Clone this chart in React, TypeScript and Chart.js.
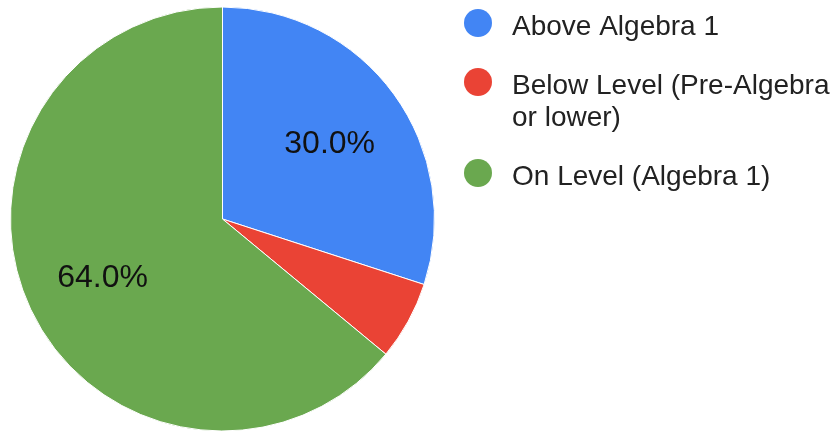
import React, { useEffect, useRef } from "react";
import { Chart, registerables } from "chart.js";

Chart.register(...registerables);

const categories: string[] = [
  "Above Algebra 1",
  "Below Level (Pre-Algebra or lower)",
  "On Level (Algebra 1)",
];
const shares: number[] = [30.0, 6.0, 64.0];
const sliceColors: string[] = ["#4285f4", "#ea4335", "#6aa84f"];

const FONT = '"Liberation Sans", Arial, sans-serif';

// Percentage labels inside the larger slices
const sliceLabels = {
  id: "sliceLabels",
  afterDatasetsDraw(chart: Chart) {
    const { ctx } = chart;
    const meta = chart.getDatasetMeta(0);
    const values = chart.data.datasets[0].data as number[];
    const total = values.reduce((a, b) => a + b, 0);
    ctx.save();
    ctx.font = `32px ${FONT}`;
    ctx.fillStyle = "#111111";
    ctx.textAlign = "center";
    ctx.textBaseline = "alphabetic";
    meta.data.forEach((el: any, i: number) => {
      const pct = (values[i] / total) * 100;
      if (pct < 10) return;
      const { x, y, startAngle, endAngle, outerRadius } = el.getProps(
        ["x", "y", "startAngle", "endAngle", "outerRadius"],
        true
      );
      const mid = (startAngle + endAngle) / 2;
      const r = outerRadius * 0.625;
      const cx = x + Math.cos(mid) * r;
      const cy = y + Math.sin(mid) * r;
      ctx.fillText(`${pct.toFixed(1)}%`, cx, cy + 11.5);
    });
    ctx.restore();
  },
};

// Legend on the right with round markers and word-wrapped labels
const sideLegend = {
  id: "sideLegend",
  afterDraw(chart: Chart) {
    const { ctx, width } = chart;
    const labels = chart.data.labels as string[];
    const colors = chart.data.datasets[0].backgroundColor as string[];
    const markerX = 478;
    const textX = 512;
    const lineHeight = 32;
    const itemGap = 59;
    const maxW = width - textX - 2;
    ctx.save();
    ctx.font = `28px ${FONT}`;
    ctx.textAlign = "left";
    ctx.textBaseline = "alphabetic";
    let baseline = 35;
    labels.forEach((label, i) => {
      const words = label.split(" ");
      const lines: string[] = [];
      let cur = "";
      words.forEach((w) => {
        const test = cur ? `${cur} ${w}` : w;
        if (cur && ctx.measureText(test).width > maxW) {
          lines.push(cur);
          cur = w;
        } else {
          cur = test;
        }
      });
      if (cur) lines.push(cur);

      ctx.fillStyle = colors[i];
      ctx.beginPath();
      ctx.arc(markerX, baseline - 12, 14, 0, Math.PI * 2);
      ctx.fill();

      ctx.fillStyle = "#222222";
      lines.forEach((ln, j) => {
        ctx.fillText(ln, textX, baseline + j * lineHeight);
      });
      baseline += (lines.length - 1) * lineHeight + itemGap;
    });
    ctx.restore();
  },
};

export default function App() {
  const canvasRef = useRef<HTMLCanvasElement | null>(null);

  useEffect(() => {
    if (!canvasRef.current) return;
    const chart = new Chart(canvasRef.current, {
      type: "pie",
      data: {
        labels: categories,
        datasets: [
          {
            data: shares,
            backgroundColor: sliceColors,
            borderColor: "#ffffff",
            borderWidth: 1,
            radius: 212,
          } as any,
        ],
      },
      options: {
        responsive: false,
        animation: false,
        devicePixelRatio: 1,
        layout: { padding: { left: 10, top: 7, right: 404, bottom: 0 } },
        plugins: {
          legend: { display: false },
          tooltip: { enabled: false },
        },
      },
      plugins: [sliceLabels, sideLegend],
    });
    return () => chart.destroy();
  }, []);

  return (
    <div
      style={{
        position: "fixed",
        left: 0,
        top: 0,
        width: 839,
        height: 431,
        background: "#ffffff",
        overflow: "hidden",
      }}
    >
      <canvas ref={canvasRef} width={839} height={431} />
    </div>
  );
}
